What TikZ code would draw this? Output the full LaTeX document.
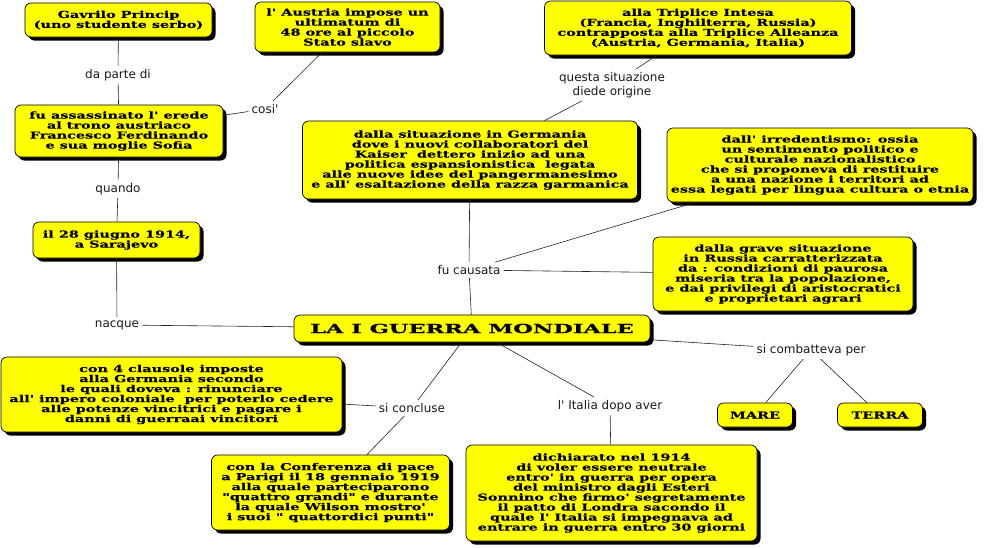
\documentclass[tikz,border=0pt]{standalone}
\usepackage{fontspec}
\usetikzlibrary{shadows}
\newfontfamily\boxfont[FakeStretch=1.5,FakeBold=0.5]{DejaVu Serif}
\newfontfamily\titlefont[FakeStretch=1.8,FakeBold=0.6]{DejaVu Serif}
\newfontfamily\linkfont{DejaVu Sans}
\definecolor{boxYellow}{HTML}{FFFF00}
\definecolor{lineDark}{HTML}{222222}
\tikzset{
    card/.style={draw=black,fill=boxYellow,rounded corners=6pt,line width=0.7pt,
        inner sep=2pt,align=center,
        font=\boxfont\bfseries\fontsize{9.6}{10}\selectfont,
        general shadow={fill=black,shadow xshift=3.5pt,shadow yshift=-3.5pt}},
    titlecard/.style={card,font=\titlefont\bfseries\fontsize{12.5}{12.5}\selectfont},
    linklabel/.style={inner sep=3pt,align=center,text=black!90,
        font=\linkfont\fontsize{12}{14}\selectfont},
    link/.style={draw=lineDark,line width=0.6pt}
}
\begin{document}
\begin{tikzpicture}[x=1pt,y=-1pt]
    \useasboundingbox (0,0) rectangle (985,547);
    % concetti
    \node[card,minimum width=187pt,minimum height=34pt] (gav) at (118.5,20) {Gavrilo Princip\\(uno studente serbo)};
    \node[card,minimum width=185pt,minimum height=50pt] (aus) at (347.5,27) {l' Austria impose un\\ultimatum di\\48 ore al piccolo\\Stato slavo};
    \node[card,minimum width=307pt,minimum height=54pt] (tri) at (698,28) {alla Triplice Intesa\\(Francia, Inghilterra, Russia)\\contrapposta alla Triplice Alleanza\\(Austria, Germania, Italia)};
    \node[card,minimum width=208pt,minimum height=52pt] (ass) at (119,131) {fu assassinato l' erede\\al trono austriaco\\Francesco Ferdinando\\e sua moglie Sofia};
    \node[card,minimum width=335pt,minimum height=78pt] (ger) at (470,160) {dalla situazione in Germania\\dove i nuovi collaboratori del\\Kaiser\ \ dettero inizio ad una\\politica espansionistica\ \ legata\\alle nuove idee del pangermanesimo\\e all' esaltazione della razza garmanica};
    \node[card,minimum width=306pt,minimum height=74pt] (irr) at (820,165) {dall' irredentismo: ossia\\un sentimento politico e\\culturale nazionalistico\\che si proponeva di restituire\\a una nazione i territori ad\\essa legati per lingua cultura o etnia};
    \node[card,minimum width=260pt,minimum height=74pt] (rus) at (783,274) {dalla grave situazione\\in Russia carratterizzata\\da : condizioni di paurosa\\miseria tra la popolazione,\\e dai privilegi di aristocratici\\e proprietari agrari};
    \node[card,minimum width=167pt,minimum height=36pt] (giu) at (116.5,240) {il 28 giugno 1914,\\a Sarajevo};
    \node[titlecard,minimum width=356pt,minimum height=27pt] (war) at (472,328.5) {LA I GUERRA MONDIALE};
    \node[card,minimum width=341pt,minimum height=75pt] (cla) at (171.5,394.5) {con 4 clausole imposte\\alla Germania secondo\\le quali doveva : rinunciare\\all' impero coloniale\ \ per poterlo cedere\\alle potenze vincitrici e pagare i\\danni di guerraai vincitori};
    \node[card,minimum width=238pt,minimum height=75pt] (con) at (330.5,492.5) {con la Conferenza di pace\\a Parigi il 18 gennaio 1919\\alla quale parteciparono\\"quattro grandi" e durante\\la quale Wilson mostro'\\i suoi " quattordici punti"};
    \node[card,minimum width=291pt,minimum height=96pt] (dic) at (611.5,493) {dichiarato nel 1914\\di voler essere neutrale\\entro' in guerra per opera\\del ministro dagli Esteri\\Sonnino che firmo' segretamente\\il patto di Londra sacondo il\\quale l' Italia si impegnava ad\\entrare in guerra entro 30 giorni};
    \node[card,minimum width=75pt,minimum height=24pt] (mare) at (755,415) {MARE};
    \node[card,minimum width=85pt,minimum height=24pt] (terra) at (880,415) {TERRA};
    % parole legame
    \node[linklabel] (lDa) at (118,75) {da parte di};
    \node[linklabel] (lCosi) at (265,109) {cosi'};
    \node[linklabel] (lQuando) at (118,189) {quando};
    \node[linklabel] (lQuesta) at (612,85) {questa situazione\\diede origine};
    \node[linklabel] (lFu) at (469,270) {fu causata};
    \node[linklabel] (lNac) at (117,325) {nacque};
    \node[linklabel] (lComb) at (811,350) {si combatteva per};
    \node[linklabel] (lConc) at (412,408) {si concluse};
    \node[linklabel] (lIta) at (610,406) {l' Italia dopo aver};
    % collegamenti
    \draw[link] (gav) -- (lDa);
    \draw[link] (lDa) -- (ass);
    \draw[link] (ass) -- (lCosi);
    \draw[link] (lCosi) -- (aus);
    \draw[link] (ass) -- (lQuando);
    \draw[link] (lQuando) -- (giu);
    \draw[link] (giu) -- (lNac);
    \draw[link] (lNac) -- (war);
    \draw[link] (tri) -- (lQuesta);
    \draw[link] (lQuesta) -- (ger);
    \draw[link] (ger) -- (lFu);
    \draw[link] (lFu) -- (war);
    \draw[link] (lFu) -- (irr);
    \draw[link] (lFu) -- (rus);
    \draw[link] (war) -- (lComb);
    \draw[link] (lComb) -- (mare);
    \draw[link] (lComb) -- (terra);
    \draw[link] (war) -- (lConc);
    \draw[link] (lConc) -- (cla);
    \draw[link] (lConc) -- (con);
    \draw[link] (war) -- (lIta);
    \draw[link] (lIta) -- (dic);
\end{tikzpicture}
\end{document}
